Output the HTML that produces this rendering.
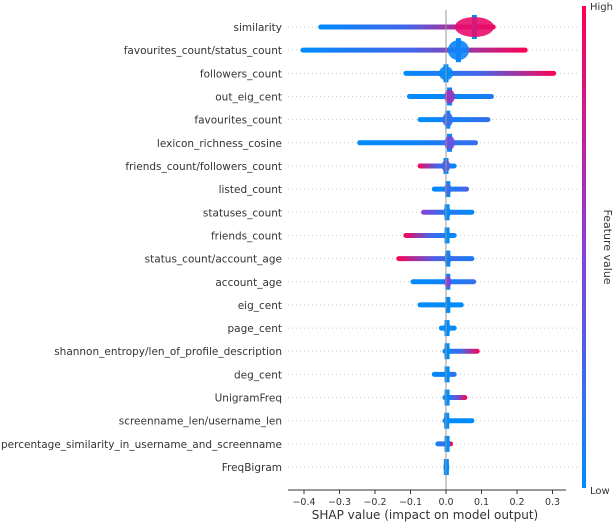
<!DOCTYPE html>
<html><head><meta charset="utf-8"><style>
html,body{margin:0;padding:0;background:#fff;}
svg{display:block;font-family:"DejaVu Sans","Liberation Sans",sans-serif;}
</style></head><body>
<svg id="chart" width="616" height="524" viewBox="0 0 616 524">
<defs>
<linearGradient id="cbar" x1="0" y1="0" x2="0" y2="1">
<stop offset="0" stop-color="#ff0052"/><stop offset="0.5" stop-color="#8a3fd8"/><stop offset="1" stop-color="#008bfb"/>
</linearGradient>
</defs>
<g id="grid"></g><g id="marks"></g><g id="labels"></g>
<line x1="446" y1="10" x2="446" y2="490" stroke="#999" stroke-width="1"/>
<line x1="288" y1="490" x2="566" y2="490" stroke="#333" stroke-width="1"/>
<g id="xticks"></g>
<text x="425" y="519" font-size="12" text-anchor="middle" fill="#333">SHAP value (impact on model output)</text>
<rect x="582" y="6" width="4" height="482" fill="url(#cbar)"/>
<text x="590" y="10" font-size="10" fill="#333">High</text>
<text x="590" y="494" font-size="10" fill="#333">Low</text>
<text x="0" y="0" font-size="11" fill="#333" text-anchor="middle" transform="translate(604,247) rotate(90)">Feature value</text>
</svg>
<script>
const features=["similarity","favourites_count/status_count","followers_count","out_eig_cent","favourites_count","lexicon_richness_cosine","friends_count/followers_count","listed_count","statuses_count","friends_count","status_count/account_age","account_age","eig_cent","page_cent","shannon_entropy/len_of_profile_description","deg_cent","UnigramFreq","screenname_len/username_len","percentage_similarity_in_username_and_screenname","FreqBigram"];
const mins=[-0.36,-0.41,-0.12,-0.11,-0.08,-0.25,-0.08,-0.04,-0.07,-0.12,-0.14,-0.1,-0.08,-0.02,-0.01,-0.04,-0.01,-0.01,-0.03,-0.002];
const maxs=[0.14,0.23,0.31,0.135,0.125,0.09,0.03,0.065,0.08,0.03,0.08,0.085,0.05,0.03,0.095,0.03,0.06,0.08,0.02,0.006];
const leftColor=[0,0,0,0,0,0,1,0,0.5,1,1,0,0,0,0,0,0,0,0,0];
const rightColor=[1,1,1,0.1,0.2,0.2,0,0.3,0,0,0.1,0.2,0,0,1,0.2,1,0,1,0];
const coreCenters=[0.08,0.035,0.0,0.01,0.005,0.01,0.0,0.005,0.003,0.003,0.005,0.005,0.005,0.003,0.003,0.003,0.003,0.002,0.003,0.001];
const coreWidths=[0.055,0.03,0.02,0.015,0.015,0.015,0.012,0.01,0.01,0.008,0.01,0.01,0.008,0.01,0.005,0.008,0.005,0.005,0.003,0.003];
const coreColor=[0.9,0.05,0,0.6,0.2,0.4,0.3,0.2,0,0,0.1,0.5,0,0,0,0,0,0,0,0];
const ticks=[-0.4,-0.3,-0.2,-0.1,0,0.1,0.2,0.3];
const tickLabels=["\u22120.4","\u22120.3","\u22120.2","\u22120.1","0.0","0.1","0.2","0.3"];
const NS="http://www.w3.org/2000/svg";
const X=v=>446+v*355;
const Y=i=>27+i*23.16;
function col(t){const a=[0,139,251],m=[138,63,216],b=[255,0,82];let c;if(t<0.5){const k=t*2;c=a.map((x,j)=>x+(m[j]-x)*k);}else{const k=(t-0.5)*2;c=m.map((x,j)=>x+(b[j]-x)*k);}return `rgb(${c.map(Math.round).join(",")})`;}
function mk(tag,attrs,parent){const e=document.createElementNS(NS,tag);for(const k in attrs)e.setAttribute(k,attrs[k]);parent.appendChild(e);return e;}
const grid=document.getElementById('grid'),marks=document.getElementById('marks'),labels=document.getElementById('labels'),xt=document.getElementById('xticks');
const defs=document.querySelector('defs');
features.forEach((f,i)=>{
 const y=Y(i);
 const g=mk('line',{x1:288,x2:580,y1:y,y2:y,stroke:'#ccc','stroke-width':1,'stroke-dasharray':'1,3'},grid);
 
 
 const t=mk('text',{x:282,y:y+4,'font-size':10.5,'text-anchor':'end',fill:'#333'},labels);
 t.textContent=f;
 
 
 const gid='g'+i;
 const lg=mk('linearGradient',{id:gid,x1:0,y1:0,x2:1,y2:0},defs);
 mk('stop',{offset:0,'stop-color':col(leftColor[i])},lg);
 mk('stop',{offset:0.5,'stop-color':col((leftColor[i]+rightColor[i])/2*0.5)},lg);
 mk('stop',{offset:1,'stop-color':col(rightColor[i])},lg);
 const x0=X(mins[i]),x1=X(maxs[i]);
 const r=mk('rect',{x:x0,y:y-2.5,width:Math.max(2,x1-x0),height:5,rx:2.5,fill:`url(#${gid})`},marks);
 
 
 const h=i<2?10:(i<6?7:6);
 const e2=mk('rect',{x:X(coreCenters[i])-2.5,y:y-h-2,width:5,height:2*h+4,fill:'#008bfb'},marks);
 
 
 const e=mk('ellipse',{cx:X(coreCenters[i]),cy:y,rx:Math.max(3,coreWidths[i]*355),ry:h,fill:col(coreColor[i]),opacity:0.9},marks);
 
 
});
ticks.forEach((v,k)=>{
 const l=mk('line',{x1:X(v),x2:X(v),y1:490,y2:494,stroke:'#333'},xt);
 
 
 const t=mk('text',{x:X(v),y:505,'font-size':9.5,'text-anchor':'middle',fill:'#333'},xt);
 t.textContent=tickLabels[k];
 
 
});
</script>
</body></html>
